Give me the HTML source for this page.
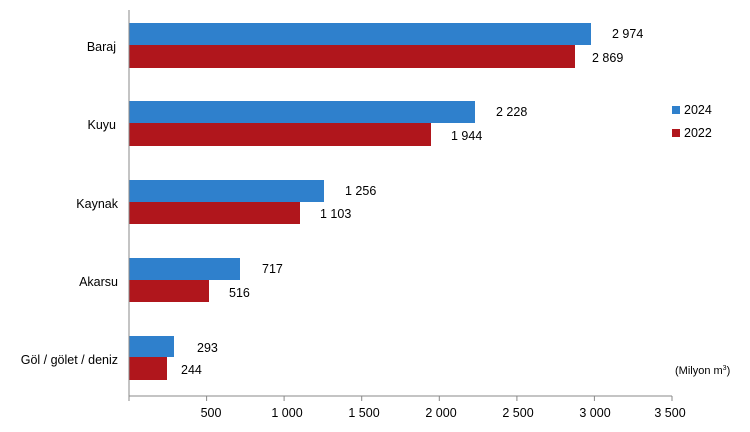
<!DOCTYPE html><html><head><style>body{margin:0;background:#fff}</style></head><body>
<svg width="750" height="427" xmlns="http://www.w3.org/2000/svg" font-family="Liberation Sans, sans-serif" font-size="12.5" fill="#000">
<g fill="#2f80cc">
<rect x="129" y="23" width="462" height="22"/>
<rect x="129" y="101" width="346" height="22"/>
<rect x="129" y="180" width="195" height="22"/>
<rect x="129" y="258" width="111" height="22"/>
<rect x="129" y="336" width="45" height="21"/>
</g>
<g fill="#b0161c">
<rect x="129" y="45" width="446" height="23"/>
<rect x="129" y="123" width="302" height="23"/>
<rect x="129" y="202" width="171" height="22"/>
<rect x="129" y="280" width="80" height="22"/>
<rect x="129" y="357" width="38" height="23"/>
</g>
<g stroke="#888" stroke-width="1">
<line x1="129" y1="10" x2="129" y2="396"/>
<line x1="129" y1="396" x2="672" y2="396"/>
<line x1="129" y1="396" x2="129" y2="401"/><line x1="206.6" y1="396" x2="206.6" y2="401"/><line x1="284.1" y1="396" x2="284.1" y2="401"/><line x1="361.7" y1="396" x2="361.7" y2="401"/><line x1="439.3" y1="396" x2="439.3" y2="401"/><line x1="516.9" y1="396" x2="516.9" y2="401"/><line x1="594.4" y1="396" x2="594.4" y2="401"/><line x1="672" y1="396" x2="672" y2="401"/>
</g>
<g text-anchor="middle">
<text x="211" y="417">500</text><text x="287" y="417">1 000</text><text x="364" y="417">1 500</text><text x="441" y="417">2 000</text><text x="518" y="417">2 500</text><text x="595" y="417">3 000</text><text x="670" y="417">3 500</text>
</g>
<g text-anchor="end">
<text x="116" y="51">Baraj</text><text x="116" y="129">Kuyu</text><text x="118" y="208">Kaynak</text><text x="118" y="286">Akarsu</text><text x="118" y="364">Göl / gölet / deniz</text>
</g>
<text x="612" y="38">2 974</text><text x="592" y="62">2 869</text>
<text x="496" y="116">2 228</text><text x="451" y="140">1 944</text>
<text x="345" y="195">1 256</text><text x="320" y="218">1 103</text>
<text x="262" y="273">717</text><text x="229" y="297">516</text>
<text x="197" y="352">293</text><text x="181" y="374">244</text>
<rect x="672" y="106" width="8" height="8" fill="#2f80cc"/><text x="684" y="114">2024</text>
<rect x="672" y="129" width="8" height="8" fill="#b0161c"/><text x="684" y="137">2022</text>
<text x="675" y="374" font-size="11">(Milyon m<tspan font-size="7" dy="-4">3</tspan><tspan dy="4">)</tspan></text>
</svg></body></html>
